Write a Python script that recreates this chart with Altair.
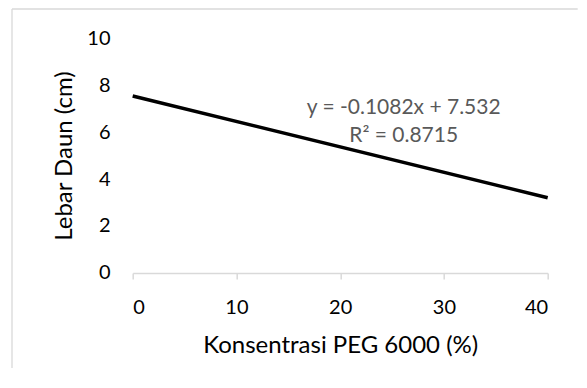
import altair as alt
import pandas as pd

# Trendline end points (x = PEG 6000 concentration %, y = leaf width cm)
x_vals = [0, 40]
y_vals = [7.532, 3.204]
x_ticks = [0, 10, 20, 30, 40]
y_ticks = [0, 2, 4, 6, 8, 10]
eq_lines = ["y = -0.1082x + 7.532", "R² = 0.8715"]
x_title = "Konsentrasi PEG 6000 (%)"
y_title = "Lebar Daun (cm)"

FONT = "Lato"
W, H = 415, 235
PAD = {"left": 124.7, "top": 30, "right": 30, "bottom": 95}

df = pd.DataFrame({"x": x_vals, "y": y_vals})
one = pd.DataFrame({"k": [0]})

border_top = alt.Chart(one).mark_rule(color="#d9d9d9", strokeWidth=1.3).encode(
    x=alt.value(-120.7), x2=alt.value(W + PAD["right"]), y=alt.value(-29)
)
border_left = alt.Chart(one).mark_rule(color="#d9d9d9", strokeWidth=1.3).encode(
    x=alt.value(-120.7), y=alt.value(-29), y2=alt.value(H + PAD["bottom"])
)

line = alt.Chart(df).mark_line(color="black", strokeWidth=3.5).encode(
    x=alt.X(
        "x:Q",
        scale=alt.Scale(domain=[0, 40], nice=False, zero=False),
        axis=alt.Axis(
            values=x_ticks, title=x_title, grid=False,
            domainColor="#d9d9d9", domainWidth=1.5,
            tickColor="#d9d9d9", tickWidth=1.5, tickSize=6,
            labelFont=FONT, labelFontSize=20, labelColor="black",
            labelBaseline="alphabetic", labelPadding=34.7,
            titleFont=FONT, titleFontSize=24, titleColor="black",
            titleFontWeight="normal", titleBaseline="alphabetic",
            titleY=80, titleX=W / 2, titleAlign="center",
        ),
    ),
    y=alt.Y(
        "y:Q",
        scale=alt.Scale(domain=[0, 10], nice=False),
        axis=alt.Axis(
            values=y_ticks, title=y_title, grid=False, domain=False, ticks=False,
            labelFont=FONT, labelFontSize=20, labelColor="black",
            labelPadding=22.7,
            titleFont=FONT, titleFontSize=24, titleColor="black",
            titleFontWeight="normal", titleBaseline="alphabetic",
            titleAngle=270, titleX=-61.2, titleY=H / 2, titleAlign="center",
        ),
    ),
)

ann = alt.Chart(one).mark_text(
    font=FONT, fontSize=21, color="#595959", align="center",
    baseline="middle", lineHeight=29,
).encode(
    x=alt.value(271), y=alt.value(69.5), text=alt.value(eq_lines)
)

chart = alt.layer(border_top, border_left, line, ann).properties(
    width=W, height=H,
    autosize=alt.AutoSizeParams(type="none"),
    padding=PAD,
    background="white",
).configure_view(stroke=None)

chart.save("out.html", embed_options={"renderer": "svg", "actions": False})
